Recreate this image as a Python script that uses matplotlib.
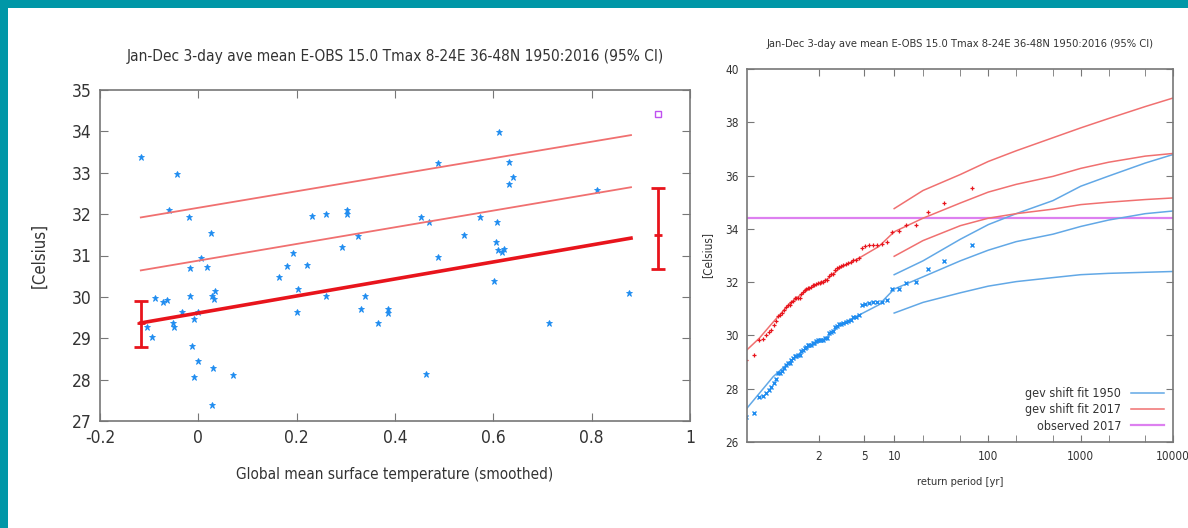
import numpy as np
import matplotlib
matplotlib.use("Agg")
import matplotlib.pyplot as plt
from matplotlib.patches import Rectangle
from matplotlib.ticker import FixedLocator, NullFormatter
from matplotlib import font_manager

names = {f.name for f in font_manager.fontManager.ttflist}
fam = [f for f in ['DejaVu Sans Condensed', 'Liberation Sans Narrow'] if f in names] + ['DejaVu Sans']
plt.rcParams['font.family'] = fam
plt.rcParams['font.stretch'] = 'condensed'

# observations 1950-2016: covariate (smoothed GMST) and 3-day Tmax
gmst = [-0.117, -0.043, -0.059, -0.020, 0.025, 0.005, -0.017, 0.018, -0.088, -0.071,
        -0.063, -0.017, 0.027, 0.034, 0.032, -0.033, 0.000, -0.009, -0.052, -0.050,
        -0.105, -0.095, -0.012, 0.000, 0.030, -0.009, 0.070, 0.027, 0.164, 0.181,
        0.193, 0.222, 0.232, 0.259, 0.302, 0.302, 0.293, 0.325, 0.203, 0.200,
        0.260, 0.331, 0.338, 0.365, 0.385, 0.386, 0.452, 0.470, 0.487, 0.487,
        0.464, 0.540, 0.573, 0.607, 0.605, 0.610, 0.617, 0.622, 0.602, 0.612,
        0.632, 0.631, 0.641, 0.810, 0.876, 0.714]
tmax = [33.39, 32.96, 32.10, 31.94, 31.55, 30.93, 30.69, 30.72, 29.97, 29.87,
        29.93, 30.02, 30.02, 30.15, 29.94, 29.64, 29.64, 29.47, 29.38, 29.28,
        29.26, 29.02, 28.82, 28.46, 28.27, 28.06, 28.10, 27.39, 30.48, 30.75,
        31.06, 30.77, 31.96, 32.00, 32.10, 32.00, 31.21, 31.46, 30.19, 29.63,
        30.03, 29.71, 30.02, 29.36, 29.70, 29.62, 31.92, 31.80, 33.23, 30.96,
        28.13, 31.50, 31.93, 31.80, 31.33, 31.13, 31.08, 31.16, 30.38, 33.98,
        33.27, 32.73, 32.90, 32.58, 30.09, 29.38]

# fitted location and two return-level lines (left panel)
fit_x = [-0.117, 0.88]
fit_mu = [29.37, 31.42]
fit_rl1 = [30.64, 32.65]
fit_rl2 = [31.92, 33.91]

# 95% CI of location at 1950 and 2017
ci_x = [-0.117, 0.934]
ci_mid = [29.37, 31.50]
ci_lo = [28.80, 30.68]
ci_hi = [29.90, 32.64]

obs2017_x = 0.934
obs2017 = 34.41

# return level curves (right panel)
T_low = [1.016, 1.05, 1.13, 1.32, 1.65, 2.3, 3, 4.5, 7]
red_low = [29.46, 29.90, 30.50, 31.21, 31.71, 32.09, 32.53, 32.91, 33.34]
blue_low = [27.27, 27.83, 28.45, 29.02, 29.52, 29.90, 30.40, 30.77, 31.15]

T_hi = [10, 20, 50, 100, 200, 500, 1000, 2000, 5000, 10000]
red_c = [33.89, 34.40, 34.97, 35.38, 35.67, 35.97, 36.27, 36.50, 36.73, 36.83]
red_up = [34.76, 35.44, 36.04, 36.53, 36.93, 37.42, 37.79, 38.14, 38.59, 38.91]
red_lo = [32.97, 33.56, 34.12, 34.40, 34.57, 34.74, 34.91, 35.00, 35.10, 35.16]
blue_c = [31.74, 32.20, 32.80, 33.20, 33.52, 33.80, 34.09, 34.33, 34.57, 34.67]
blue_up = [32.28, 32.80, 33.61, 34.16, 34.57, 35.06, 35.60, 35.98, 36.47, 36.79]
blue_lo = [30.84, 31.24, 31.60, 31.85, 32.02, 32.17, 32.28, 32.33, 32.37, 32.40]

title = "Jan-Dec 3-day ave mean E-OBS 15.0 Tmax 8-24E 36-48N 1950:2016 (95% CI)"

FRAME = '#777777'
TXT = '#333333'
BLUE_PT = '#1e8cf0'
RED = '#e8141c'
RED_L = '#f07070'
BLUE_L = '#62a8e6'
MAG = '#dd80f0'

fig = plt.figure(figsize=(11.88, 5.28), dpi=100)
fig.patch.set_facecolor('#0097a7')
fig.patches.append(Rectangle((8 / 1188, 0), 1, (528 - 8) / 528, transform=fig.transFigure,
                             facecolor='white', edgecolor='none', zorder=-10))


def style(ax, size):
    for s in ax.spines.values():
        s.set_color(FRAME)
        s.set_linewidth(1.2)
    ax.tick_params(which='both', direction='in', top=True, right=True, length=6,
                   color=FRAME, labelcolor=TXT, labelsize=size, pad=6)


# ---- left panel
ax1 = fig.add_axes([100 / 1188, 107 / 528, 590 / 1188, 331 / 528])
ax1.plot(gmst, tmax, ls='none', marker='*', ms=4.5, color=BLUE_PT, mew=0.6)
ax1.plot(fit_x, fit_rl2, color=RED_L, lw=1.3)
ax1.plot(fit_x, fit_rl1, color=RED_L, lw=1.3)
ax1.plot(fit_x, fit_mu, color=RED, lw=2.6)
mid = np.array(ci_mid)
ax1.errorbar(ci_x, mid, yerr=[mid - np.array(ci_lo), np.array(ci_hi) - mid], fmt='_',
             color=RED, ms=6, mew=2, elinewidth=2, capsize=5, capthick=2)
ax1.plot([obs2017_x], [obs2017], ls='none', marker='s', ms=5, mfc='none', mec='#c050f0', mew=1)
ax1.set_xlim(-0.2, 1)
ax1.set_ylim(27, 35)
ax1.set_xticks([-0.2, 0, 0.2, 0.4, 0.6, 0.8, 1])
ax1.set_xticklabels(['-0.2', '0', '0.2', '0.4', '0.6', '0.8', '1'])
ax1.set_yticks(range(27, 36))
style(ax1, 12.5)
ax1.set_title(title, fontsize=11.1, color=TXT, pad=21)
ax1.set_xlabel("Global mean surface temperature (smoothed)", fontsize=11, color=TXT, labelpad=14)
ax1.set_ylabel("[Celsius]", fontsize=12, color=TXT, labelpad=17)


# ---- right panel (Gumbel return period axis)
def gumbel(T):
    T = np.clip(np.asarray(T, dtype=float), 1.0000001, None)
    return -np.log(-np.log(1 - 1 / T))


def gumbel_inv(g):
    return 1 / (1 - np.exp(-np.exp(-np.asarray(g, dtype=float))))


ax2 = fig.add_axes([747 / 1188, 86 / 528, 426 / 1188, 373 / 528])
ax2.set_xscale('function', functions=(gumbel, gumbel_inv))

slope = (fit_mu[1] - fit_mu[0]) / (fit_x[1] - fit_x[0])
g = np.array(gmst)
y = np.array(tmax)
shift17 = np.sort(y + slope * (ci_x[1] - g))
shift50 = np.sort(y + slope * (ci_x[0] - g))
n = len(y)
T_emp = (n + 1) / np.arange(n, 0, -1)

ax2.axhline(obs2017, color=MAG, lw=1.6, label='observed 2017')
ax2.plot(T_low + T_hi, blue_low + blue_c, color=BLUE_L, lw=1.1, label='gev shift fit 1950')
ax2.plot(T_hi, blue_up, color=BLUE_L, lw=1.1)
ax2.plot(T_hi, blue_lo, color=BLUE_L, lw=1.1)
ax2.plot(T_low + T_hi, red_low + red_c, color=RED_L, lw=1.1, label='gev shift fit 2017')
ax2.plot(T_hi, red_up, color=RED_L, lw=1.1)
ax2.plot(T_hi, red_lo, color=RED_L, lw=1.1)
ax2.plot(T_emp, shift50, ls='none', marker='x', ms=2.8, mew=1, color=BLUE_PT)
ax2.plot(T_emp, shift17, ls='none', marker='+', ms=3.2, mew=0.9, color=RED)

ax2.set_xlim(1.016, 10000)
ax2.set_ylim(26, 40)
ax2.set_yticks(range(26, 41, 2))
ax2.xaxis.set_major_locator(FixedLocator([2, 5, 10, 100, 1000, 10000]))
ax2.set_xticklabels(['2', '5', '10', '100', '1000', '10000'])
ax2.xaxis.set_minor_locator(FixedLocator([20, 50, 200, 500, 2000, 5000]))
ax2.xaxis.set_minor_formatter(NullFormatter())
style(ax2, 8.5)
ax2.tick_params(which='both', length=5)
ax2.set_title(title, fontsize=8, color=TXT, pad=16)
ax2.set_xlabel("return period [yr]", fontsize=8, color=TXT, labelpad=10)
ax2.set_ylabel("[Celsius]", fontsize=8.5, color=TXT, labelpad=8)

h, l = ax2.get_legend_handles_labels()
order = [l.index('gev shift fit 1950'), l.index('gev shift fit 2017'), l.index('observed 2017')]
ax2.legend([h[i] for i in order], [l[i] for i in order], loc='lower right', frameon=False,
           markerfirst=False, fontsize=9, handlelength=2.6, labelspacing=0.25,
           borderaxespad=0.35, labelcolor=TXT)

fig.savefig("out.png", dpi=100, facecolor=fig.get_facecolor())
